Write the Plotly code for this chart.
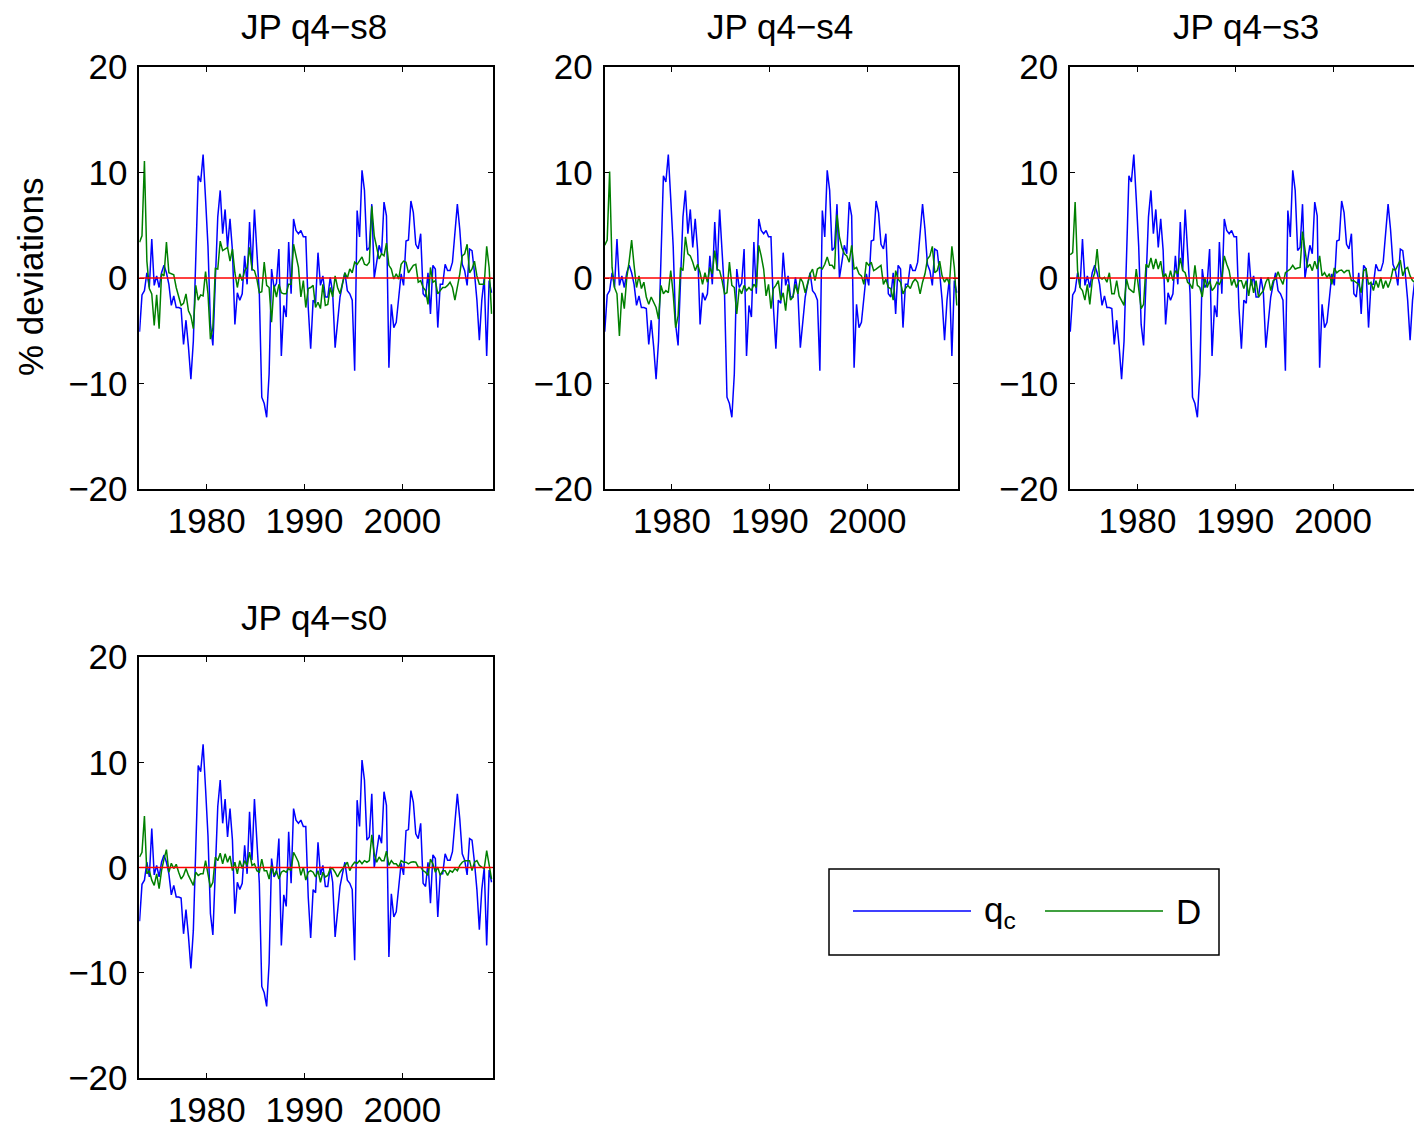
import plotly.graph_objects as go

W, H = 1414, 1131

# quarterly dates 1973Q1 .. 2009Q1 (145 observations)
quarters = [1973 + (i + 0.5) / 4 for i in range(145)]

# q_c : same in every panel
q_c = [
    -5.1, -1.6, -1.2, 0.5, -0.9, 3.7, -0.7, 0.2, -0.9, 0.5,
    1.2, 0.5, -0.6, -2.6, -1.7, -2.8, -2.8, -2.9, -6.3, -4.0,
    -6.5, -9.6, -6.0, 1.0, 9.7, 9.1, 11.7, 7.5, 3.0, -4.4,
    -6.4, -0.25, 5.8, 8.3, 4.2, 6.5, 2.9, 5.6, 2.6, -4.4,
    -1.4, -2.1, -1.5, 2.1, -0.6, 5.3, 0.7, 6.5, 2.5, -1.5,
    -11.3, -11.9, -13.2, -9.1, 0.85, -0.9, -0.5, 2.75, -7.4, -2.6,
    -3.7, 3.4, -1.5, 5.6, 4.5, 4.2, 4.5, 3.9, 3.9, -2.8,
    -6.7, -2.1, -2.4, 2.4, -0.7, 0.2, -1.8, -1.8, 0.06, -1.4,
    -6.6, -4.0, -1.8, -0.6, 0.5, -1.2, -1.5, -2.1, -8.8, 6.4,
    3.9, 10.2, 8.3, 2.6, 2.9, 7.0, 0.0, 1.5, 3.1, 2.3,
    7.2, 5.9, -8.5, -2.5, -4.7, -4.2, -2.1, 0.4, -0.7, 3.5,
    3.6, 7.3, 6.2, 3.2, 2.75, 4.2, -1.5, -1.8, 0.5, -3.4,
    1.2, 0.85, -4.7, -0.6, -0.6, 1.3, 0.7, 0.7, 1.5, 3.9,
    7.0, 4.6, 1.3, 0.7, -0.7, 2.75, 2.6, 0.5, -2.1, -5.9,
    -2.1, 0.0, -7.4, -0.25, -1.4,
]

D_s8 = [
    3.4, 4.0, 11.1, 1.6, -1.0, -1.5, -4.5, -1.6, -4.8, 0.4,
    0.2, 3.4, 0.5, 0.4, 0.3, -0.9, -1.8, -2.6, -2.4, -1.5,
    -3.1, -3.6, -4.8, -0.7, -2.1, -1.6, -1.7, 0.6, -1.5, -5.8,
    -4.7, 0.9, 0.85, 3.5, 2.6, 2.75, 2.9, 1.6, 2.75, 0.5,
    -0.9, 0.4, -0.25, 0.7, 1.0, 2.9, 0.85, 0.7, -0.1, -1.4,
    -1.3, 1.5, -0.7, -0.9, -4.2, -0.7, -1.8, -0.6, -1.4, -1.5,
    -1.5, -0.6, -0.6, 3.2, 2.1, 1.0, -1.8, -0.25, -2.8, -1.0,
    -0.9, -0.7, -2.8, -2.3, -2.9, -0.6, -2.6, -2.5, -0.9, -1.8,
    0.2, -0.9, -1.5, -0.6, 0.5, 0.0, 0.85, 0.5, 1.5, 1.3,
    1.6, 2.0, 1.3, 1.2, 1.5, 6.8, 4.0, 2.75, 1.8, 2.3,
    2.1, 3.3, 1.2, 0.85, -0.1, 0.4, -0.1, 1.3, 1.6, 1.5,
    0.5, 0.85, 1.2, 1.3, -0.4, -0.25, -0.9, -1.2, -2.5, 1.0,
    -0.4, -0.25, -1.5, -1.2, -0.9, -0.9, -0.7, -0.4, -0.9, -2.1,
    -0.9, 0.4, 2.1, 2.3, 3.2, 0.5, 0.85, 1.6, 0.2, -0.6,
    -0.6, -0.6, 3.0, 1.0, -3.4,
]

D_s4 = [
    3.1, 3.6, 10.1, 1.0, -0.9, -1.5, -5.5, -1.4, -2.9, 0.0,
    1.6, 3.6, 1.2, -0.9, 0.2, -1.0, -0.4, -1.8, -2.5, -1.8,
    -2.3, -2.8, -3.9, -0.7, -1.5, -1.2, -1.4, 0.7, -1.5, -4.7,
    -3.6, 1.0, 0.7, 3.9, 2.3, 2.1, 1.5, 0.7, 1.3, 0.5,
    -0.6, 0.5, -0.4, 1.0, 0.4, 2.6, 0.85, 0.7, -0.25, -1.5,
    -1.4, 1.5, -0.7, -0.9, -3.4, -1.0, -1.5, -0.7, -1.2, -0.9,
    -1.2, -0.6, -0.9, 3.1, 2.1, 0.85, -1.7, -0.6, -2.9, -1.0,
    -0.7, -0.25, -2.1, -1.4, -3.1, -0.6, -2.1, -1.8, -0.6, -1.5,
    0.0, -0.4, -1.4, -0.6, 0.4, 0.85, -0.25, 0.85, 1.0, 0.85,
    1.3, 2.0, 1.2, 1.2, 0.85, 6.0, 3.9, 2.9, 2.3, 2.1,
    1.5, 3.1, 0.85, 1.0, 0.4, 0.2, -0.6, 1.5, 1.2, 1.5,
    0.7, 0.85, 1.0, 1.2, -0.6, -0.1, -0.9, -1.0, -2.1, 0.7,
    -0.1, -0.4, -1.5, -1.0, -0.7, -1.0, -0.4, -0.1, -0.4, -1.5,
    -0.4, 0.4, 1.8, 2.1, 3.0, 0.5, 0.7, 1.6, 0.2, -0.4,
    0.0, -0.6, 3.0, 1.0, -2.6,
]

D_s3 = [
    2.2, 2.4, 7.2, 0.7, -0.9, -1.2, -2.1, -0.6, -2.5, -0.25,
    0.5, 2.75, 0.06, -0.1, 0.06, -0.4, 0.5, -1.5, -1.5, -0.25,
    -1.7, -2.1, -2.6, -0.1, -1.0, -1.2, -1.4, 0.85, -0.9, -2.9,
    -2.5, 1.3, 1.0, 1.9, 0.85, 1.8, 0.85, 1.6, 0.06, 0.4,
    -0.4, 0.7, -0.25, 0.7, 0.4, 1.9, 0.7, 0.5, -0.4, -0.6,
    -1.0, 1.2, -0.7, -0.9, -1.8, 0.06, -0.9, -0.25, -1.2, -0.9,
    -0.4, -0.6, -0.1, 2.1, 1.3, 0.7, -0.7, -0.1, -0.9, -0.25,
    -0.25, -1.0, -0.25, -1.7, -0.1, -1.4, -0.25, -1.8, -1.5, -1.2,
    -0.4, 0.06, -1.2, -0.25, -0.1, 0.6, -0.1, -0.6, 0.5, 0.7,
    0.85, 1.2, 0.85, 0.95, 1.0, 4.4, 2.4, 1.0, 1.3, 0.7,
    1.6, 0.85, 2.1, 0.2, 0.5, 0.06, 0.4, -0.6, 0.95, 0.5,
    0.7, 0.75, 0.5, 0.7, 0.7, -0.25, -0.25, -0.4, -0.6, -1.4,
    0.7, 0.85, -0.6, -0.4, -1.2, -0.25, -0.9, 0.06, -1.0, -0.25,
    -0.9, -0.25, 0.85, 0.75, 1.3, 1.7, 0.2, 0.85, 1.0, 0.2,
    -0.25, -0.4, 0.06, 0.3, 0.2,
]

D_s0 = [
    1.0, 1.45, 4.9, -0.6, -0.3, -1.2, -1.7, -0.6, -2.0, -0.3,
    0.8, 1.7, -0.45, 0.4, -0.1, 0.3, -0.45, -1.1, -0.75, -0.1,
    -0.75, -1.2, -1.7, -0.45, -0.75, -0.6, -0.6, 0.65, -0.6, -1.9,
    -1.4, 1.0, 0.65, 1.35, 0.35, 1.3, 0.5, 1.1, -0.3, 0.5,
    -0.6, 0.65, -0.1, 0.65, 0.2, 1.45, 0.2, 0.35, -0.3, -0.45,
    0.8, -0.3, -0.3, -1.1, 0.2, -0.75, -0.3, -1.1, -0.45, -0.3,
    -0.45, -0.1, -0.3, 1.45, 1.0, 0.5, -0.75, 0.03, -1.2, -0.45,
    -0.3, -0.45, -0.9, -0.3, -1.4, -0.45, -0.9, -0.75, -0.1, -0.1,
    -0.45, -0.9, -0.45, -0.1, 0.2, 0.5, -0.3, 0.2, 0.5, 0.4,
    0.65, 0.35, 0.65, 0.5, 0.65, 3.1, 1.3, 0.5, 1.0, 0.65,
    0.65, 1.55, 0.2, 0.65, 0.35, 0.35, 0.03, 0.65, 0.5, 0.5,
    0.35, 0.5, 0.55, 0.5, 0.03, 0.03, -0.3, -0.45, -0.75, 0.8,
    0.35, -0.45, 0.03, -0.75, -0.3, -0.3, -0.75, -0.3, -0.45, -0.1,
    -0.3, 0.2, 0.5, 0.65, 0.65, 0.65, -0.3, 0.5, 0.65, 0.2,
    0.03, -0.1, 1.6, 0.03, -1.1,
]

titles = ["JP q4\u2212s8", "JP q4\u2212s4", "JP q4\u2212s3", "JP q4\u2212s0"]
x_ticks = [1980, 1990, 2000]
y_ticks = [-20, -10, 0, 10, 20]
y_ticktext = ["\u221220", "\u221210", "0", "10", "20"]

BLUE = "#0000FF"
GREEN = "#008000"
RED = "#FF0000"
FONT = "Liberation Sans, Arial, Helvetica, sans-serif"
FS = 35

# panel geometry in pixels: (left, right, top, bottom, x_max, draw_right_spine)
PX_PER_YEAR = 9.78
X_MIN = 1973.1
panels = [
    (139.3, 492.7, 67, 489, 2009.24, True),
    (604.5, 957.9, 67, 489, 2009.24, True),
    (1070.0, 1414.0, 67, 489, X_MIN + (1414.0 - 1070.0) / PX_PER_YEAR, False),
    (139.3, 492.7, 657, 1078, 2009.24, True),
]
series = [D_s8, D_s4, D_s3, D_s0]
title_cx = [314, 780, 1246, 314]

fig = go.Figure()
layout = dict(
    template="none",
    width=W, height=H,
    margin=dict(l=0, r=0, t=0, b=0, pad=0, autoexpand=False),
    paper_bgcolor="white", plot_bgcolor="white",
    showlegend=False,
    font=dict(family=FONT, size=FS, color="black"),
)
shapes = []
annotations = []

for k, ((l, r, t, b, xmax, rspine), d) in enumerate(zip(panels, series), start=1):
    xa = "x" if k == 1 else f"x{k}"
    ya = "y" if k == 1 else f"y{k}"
    fig.add_trace(go.Scatter(x=quarters, y=q_c, mode="lines", name="q_c",
                             line=dict(color=BLUE, width=1.5), xaxis=xa, yaxis=ya))
    fig.add_trace(go.Scatter(x=quarters, y=d, mode="lines", name="D",
                             line=dict(color=GREEN, width=1.5), xaxis=xa, yaxis=ya))
    xkey = "xaxis" if k == 1 else f"xaxis{k}"
    ykey = "yaxis" if k == 1 else f"yaxis{k}"
    layout[xkey] = dict(
        domain=[l / W, r / W], anchor=ya, range=[X_MIN, xmax],
        tickvals=x_ticks, ticktext=[str(v) for v in x_ticks],
        ticks="inside", ticklen=5, tickwidth=1.2, tickcolor="black",
        showline=True, linecolor="black", linewidth=1.5, mirror="ticks",
        showgrid=False, zeroline=False, ticklabelstandoff=0, automargin=False,
        tickfont=dict(family=FONT, size=FS, color="black"),
    )
    layout[ykey] = dict(
        domain=[1 - b / H, 1 - t / H], anchor=xa, range=[-20, 20],
        tickvals=y_ticks, ticktext=y_ticktext,
        ticks="inside", ticklen=5, tickwidth=1.2, tickcolor="black",
        showline=True, linecolor="black", linewidth=1.5,
        mirror="ticks" if rspine else False,
        showgrid=False, zeroline=False, ticklabelstandoff=3, automargin=False,
        tickfont=dict(family=FONT, size=FS, color="black"),
    )
    # red zero line
    shapes.append(dict(type="line", xref=f"{xa} domain", yref=ya,
                       x0=0, x1=1, y0=0, y1=0, layer="above",
                       line=dict(color=RED, width=1.5)))
    annotations.append(dict(text=titles[k - 1], xref="paper", yref="paper",
                            x=title_cx[k - 1] / W, y=1 - (t - 40) / H,
                            xanchor="center", yanchor="middle", showarrow=False,
                            font=dict(family=FONT, size=FS, color="black")))

# y-axis label
annotations.append(dict(text="% deviations", xref="paper", yref="paper",
                        x=30 / W, y=1 - 277 / H, textangle=-90,
                        xanchor="center", yanchor="middle", showarrow=False,
                        font=dict(family=FONT, size=FS, color="black")))

# legend box (drawn manually to reproduce the long MATLAB legend samples)
shapes.append(dict(type="rect", xref="paper", yref="paper",
                   x0=829 / W, x1=1219 / W, y0=1 - 955 / H, y1=1 - 869 / H,
                   line=dict(color="black", width=1.5), fillcolor="white", layer="above"))
shapes.append(dict(type="line", xref="paper", yref="paper",
                   x0=853 / W, x1=971 / W, y0=1 - 911 / H, y1=1 - 911 / H,
                   line=dict(color=BLUE, width=1.5), layer="above"))
shapes.append(dict(type="line", xref="paper", yref="paper",
                   x0=1045 / W, x1=1163 / W, y0=1 - 911 / H, y1=1 - 911 / H,
                   line=dict(color=GREEN, width=1.5), layer="above"))
annotations.append(dict(text="q<sub>c</sub>", xref="paper", yref="paper",
                        x=982 / W, y=1 - 912 / H, xanchor="left", yanchor="middle",
                        showarrow=False, font=dict(family=FONT, size=FS, color="black")))
annotations.append(dict(text="D", xref="paper", yref="paper",
                        x=1174 / W, y=1 - 911 / H, xanchor="left", yanchor="middle",
                        showarrow=False, font=dict(family=FONT, size=FS, color="black")))

layout["shapes"] = shapes
layout["annotations"] = annotations
fig.update_layout(**layout)
fig.write_html("out.html")
